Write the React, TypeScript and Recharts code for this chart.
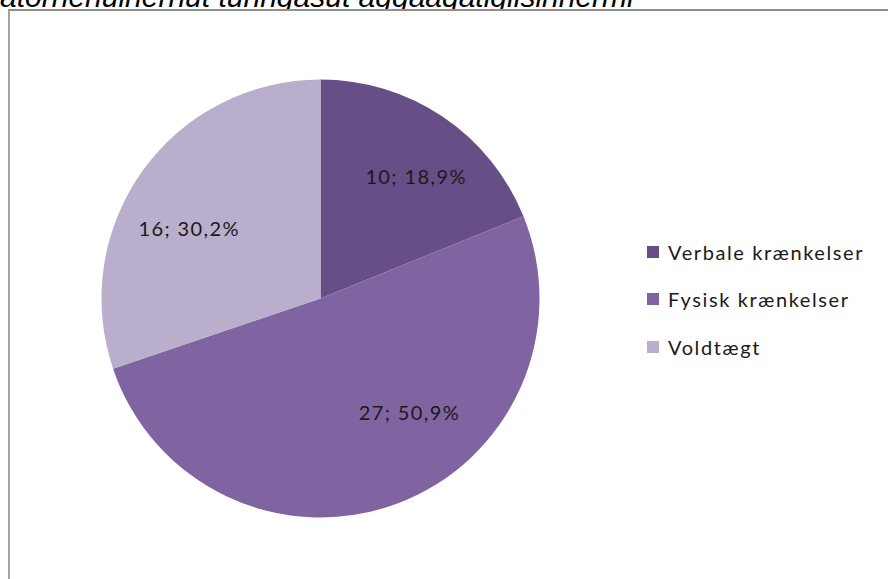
import React from "react";
import { PieChart, Pie, Cell } from "recharts";

const categories = ["Verbale krænkelser", "Fysisk krænkelser", "Voldtægt"];
const counts = [10, 27, 16];
const titleText = "atornerluinernut tunngasut aggaaqatigiisinnermi";

const COLORS = ["#664f86", "#8064a2", "#b9aecb"];
// label placement tweaks (angle offset in degrees, radius fraction)
const LABEL_ANGLE_OFFSET = [-4, 17.6, 7.5];
const LABEL_RADIUS = [0.71, 0.66, 0.68];

const total = counts.reduce((a, b) => a + b, 0);
const data = categories.map((name, i) => ({
  name,
  value: counts[i],
  pct: ((counts[i] / total) * 100).toFixed(1).replace(".", ","),
}));

const FONT = "Lato, 'Open Sans', sans-serif";
const RADIAN = Math.PI / 180;

const renderLabel = (props: any) => {
  const { cx, cy, midAngle, outerRadius, index } = props;
  const ang = (midAngle + LABEL_ANGLE_OFFSET[index]) * RADIAN;
  const r = outerRadius * LABEL_RADIUS[index];
  const x = cx + r * Math.cos(-ang);
  const y = cy + r * Math.sin(-ang);
  const d = data[index];
  return (
    <text
      x={x}
      y={y}
      textAnchor="middle"
      dominantBaseline="central"
      fill="#1a1a1a"
      fontFamily={FONT}
      fontSize={20}
      letterSpacing={1.4}
    >
      {`${d.value}; ${d.pct}%`}
    </text>
  );
};

export default function App() {
  return (
    <div
      style={{
        position: "absolute",
        left: 0,
        top: 0,
        width: 888,
        height: 579,
        overflow: "hidden",
        background: "#ffffff",
      }}
    >
      <div
        style={{
          position: "absolute",
          left: 0,
          top: -18,
          fontFamily: "'Liberation Sans', Arial, sans-serif",
          fontStyle: "italic",
          fontSize: 30,
          lineHeight: "30px",
          whiteSpace: "nowrap",
          color: "#000",
        }}
      >
        {titleText}
      </div>
      <div
        style={{
          position: "absolute",
          left: 8,
          top: 9,
          width: 920,
          height: 620,
          background: "#ffffff",
          borderTop: "2px solid #8f8f8f",
          borderLeft: "2px solid #a3a3a3",
        }}
      />
      <div style={{ position: "absolute", left: 0, top: 0 }}>
        <PieChart width={888} height={579} margin={{ top: 0, right: 0, bottom: 0, left: 0 }}>
          <Pie
            data={data}
            dataKey="value"
            nameKey="name"
            cx={320.5}
            cy={298.5}
            outerRadius={219}
            startAngle={90}
            endAngle={-270}
            stroke="none"
            label={renderLabel}
            labelLine={false}
            isAnimationActive={false}
          >
            {data.map((_, i) => (
              <Cell key={i} fill={COLORS[i]} />
            ))}
          </Pie>
        </PieChart>
      </div>
      <div
        style={{
          position: "absolute",
          left: 647,
          top: 228,
          display: "flex",
          flexDirection: "column",
        }}
      >
        {data.map((d, i) => (
          <div
            key={i}
            style={{
              display: "flex",
              alignItems: "center",
              height: 47.5,
              fontFamily: FONT,
              fontSize: 20,
              letterSpacing: 1.6,
              color: "#1a1a1a",
              whiteSpace: "nowrap",
            }}
          >
            <span
              style={{
                display: "inline-block",
                width: 12,
                height: 12,
                background: COLORS[i],
                marginRight: 9,
              }}
            />
            <span>{d.name}</span>
          </div>
        ))}
      </div>
    </div>
  );
}
